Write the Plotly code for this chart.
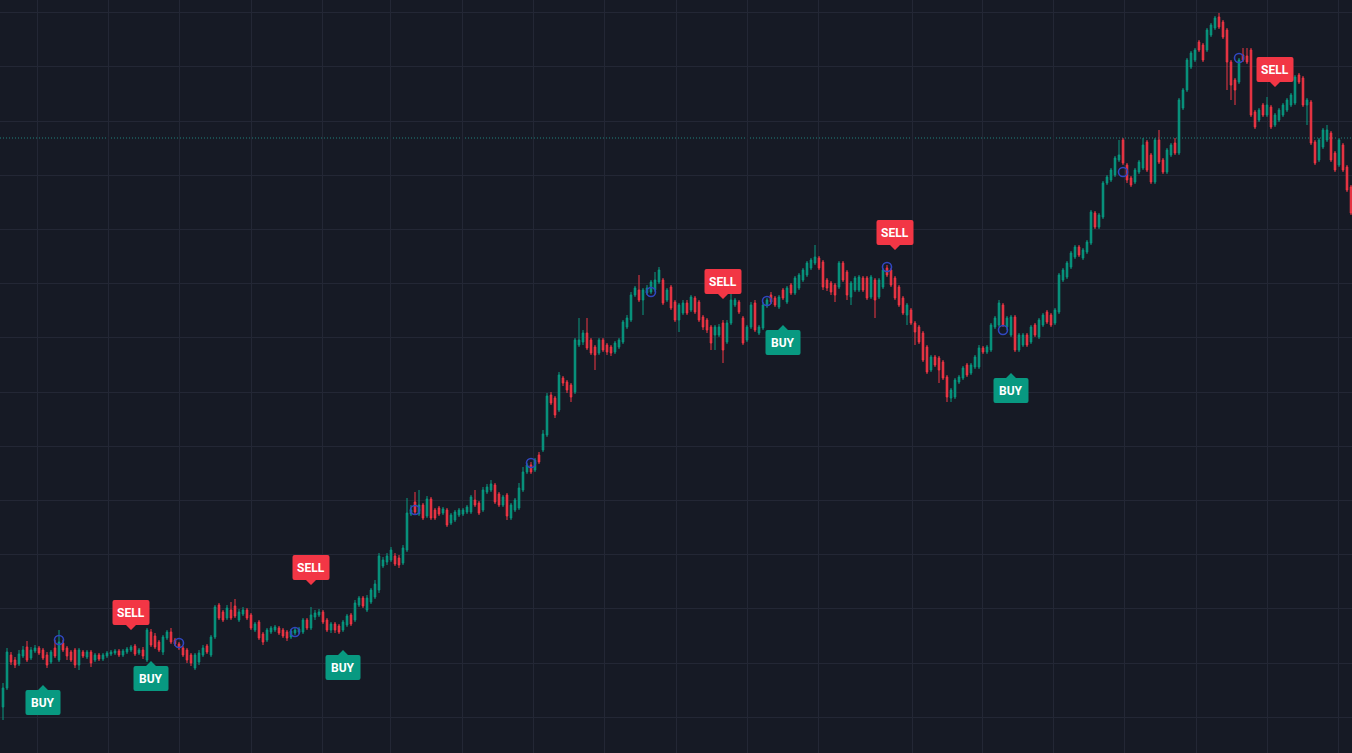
import plotly.graph_objects as go

opens = [93,112,145,140,136,144,153,142,149,152,
150,145,138,152,140,157,152,148,150,135,
148,143,148,140,145,141,144,146,147,149,
145,148,150,154,147,150,140,168,164,158,
148,162,168,160,156,152,150,145,132,138,
145,154,145,163,195,188,182,190,194,180,
186,190,185,170,178,166,160,168,170,172,
170,168,163,167,168,168,180,172,183,185,
188,180,170,176,174,170,175,185,180,195,
202,190,198,203,210,234,238,240,244,242,
237,250,286,298,286,295,284,301,290,292,
287,290,277,280,285,286,288,288,300,297,
290,308,310,315,306,295,305,282,290,292,
310,328,335,330,345,350,365,405,402,390,
422,418,415,408,455,458,467,460,453,447,
460,455,453,448,453,458,473,480,505,510,
500,507,508,510,518,520,500,513,498,480,
487,497,490,502,498,483,480,473,465,465,
477,458,477,495,498,482,460,473,497,467,
472,494,505,502,493,510,498,515,507,512,
520,525,532,537,542,538,520,517,515,513,
537,528,503,510,510,522,522,503,520,503,
513,532,530,522,513,502,485,490,477,473,
467,453,430,443,442,438,423,402,403,418,
422,435,427,433,433,452,448,450,473,475,
495,473,465,483,450,455,465,458,475,463,
475,488,485,477,488,520,523,533,543,553,
542,548,557,587,573,583,617,620,625,640,
660,635,622,618,628,632,658,645,618,660,
640,628,645,657,647,692,710,733,740,758,
755,750,765,772,783,778,770,738,720,718,
745,744,750,688,680,695,685,693,675,680,
685,690,695,697,725,722,695,698,658,640,
653,660,667,647,635,655,633,613]

closes = [112,148,138,135,146,150,140,150,152,147,
142,135,148,144,158,150,144,140,135,150,
144,148,137,145,141,145,147,148,149,145,
149,151,153,146,150,144,170,155,153,150,
163,168,158,156,152,145,140,137,145,147,
152,148,163,193,182,180,192,182,184,188,
190,182,172,176,162,158,170,172,173,167,
164,162,169,170,171,180,172,185,187,188,
178,170,176,170,168,178,184,176,197,202,
194,202,210,216,244,240,244,250,236,235,
252,287,290,288,295,282,301,282,282,286,
291,275,285,288,290,290,293,303,295,287,
310,313,316,298,295,303,284,295,300,312,
328,335,328,340,338,366,404,397,385,425,
417,410,403,460,460,467,452,447,445,460,
450,448,447,457,460,478,482,505,512,500,
510,512,518,520,530,497,510,492,480,495,
497,487,503,488,480,473,470,457,473,473,
450,477,500,500,488,457,473,495,470,473,
495,500,498,495,503,502,512,507,522,525,
530,537,540,543,532,513,512,508,505,537,
520,505,517,522,523,510,502,523,500,520,
530,525,515,502,495,487,495,477,468,458,
440,428,443,435,430,422,403,410,420,423,
432,425,435,443,452,448,453,475,482,497,
475,482,483,450,465,465,455,473,465,480,
485,478,475,490,525,530,537,547,553,545,
550,558,588,573,585,617,623,630,642,645,
637,620,615,630,638,655,630,618,660,638,
628,650,655,647,700,710,740,747,750,750,
740,770,775,782,773,763,738,715,710,740,
740,738,685,673,690,685,695,673,685,690,
695,700,705,723,718,695,700,657,637,660,
670,670,640,630,660,630,610,587]

highs = [117,152,148,143,150,154,159,153,155,154,
152,148,150,160,170,160,154,150,152,152,
150,150,150,147,147,147,149,150,151,151,
151,153,155,156,152,153,172,171,167,160,
165,170,172,162,158,154,152,147,147,150,
155,156,165,195,197,190,195,198,201,191,
193,192,187,178,180,168,172,174,175,174,
172,170,171,172,173,182,182,193,190,191,
190,182,178,178,176,180,186,187,200,204,
204,205,212,220,247,243,247,253,247,245,
255,302,295,308,310,297,304,303,292,294,
293,292,287,290,292,292,295,305,310,299,
313,316,320,317,308,305,307,297,302,317,
333,337,338,342,348,370,407,408,404,428,
424,420,417,462,482,470,482,462,455,462,
462,457,455,459,462,480,485,508,514,525,
512,515,520,528,533,522,512,515,500,497,
500,500,505,504,500,485,482,475,475,476,
480,480,508,502,500,484,475,498,500,475,
498,502,508,504,505,512,514,517,524,527,
532,539,542,555,544,540,522,519,517,539,
539,530,519,524,525,524,524,525,522,522,
532,535,532,524,515,504,497,492,479,475,
469,455,445,445,444,440,425,412,422,425,
434,437,437,445,455,454,455,477,484,500,
497,484,485,485,467,467,467,475,477,482,
487,490,487,492,527,532,539,549,555,555,
552,560,590,589,587,619,625,632,644,660,
662,637,624,632,640,662,660,647,662,670,
642,652,657,662,702,712,742,749,752,760,
757,772,777,784,787,780,772,740,722,742,
752,752,752,690,692,697,703,695,687,692,
697,702,707,725,727,724,702,700,660,662,
672,675,669,649,662,657,635,615]

lows = [80,110,135,132,134,142,138,140,147,145,
140,132,136,142,138,148,140,138,132,130,
142,141,133,138,139,139,142,144,145,143,
143,146,148,144,145,141,138,153,151,148,
145,160,156,154,150,143,137,134,130,135,
143,146,143,161,180,178,180,180,182,178,
184,180,170,168,160,155,158,166,168,165,
162,159,161,165,166,166,170,170,180,183,
176,168,167,167,166,168,173,174,178,193,
192,188,196,201,207,232,235,238,234,232,
235,248,284,286,284,280,282,280,280,284,
285,273,275,278,283,284,286,286,293,285,
288,306,308,296,293,293,280,280,288,290,
308,326,326,328,336,348,363,395,382,388,
414,407,398,406,453,455,450,445,430,445,
448,445,444,446,451,456,471,478,503,498,
485,505,506,508,516,495,498,490,478,468,
485,485,488,486,478,470,467,450,450,463,
437,456,475,493,486,455,458,471,468,465,
470,492,496,493,491,500,496,505,505,510,
518,523,530,535,530,510,509,505,498,511,
518,500,495,508,508,508,500,501,482,501,
511,523,513,500,493,485,475,475,455,456,
438,426,428,433,417,420,398,398,401,416,
420,423,425,431,431,446,446,448,471,473,
473,470,463,448,448,453,453,456,463,461,
473,476,473,475,486,518,521,531,541,543,
540,546,555,571,571,581,615,618,623,638,
635,617,613,616,626,630,628,616,616,636,
626,626,643,645,645,690,708,731,738,748,
738,748,763,770,771,761,710,700,695,716,
738,736,683,671,678,683,683,671,673,678,
683,688,693,695,716,693,675,655,635,638,
651,658,638,628,633,628,608,585]

n = min(len(opens), len(closes), len(highs), len(lows))
bars = list(range(n))

# signals: candle index and the price the label points at
buy_idx = [10, 37, 85, 195, 252]
buy_price = [115, 139, 150, 475, 427]
sell_idx = [32, 77, 180, 223, 318]
sell_price = [170, 215, 501, 550, 713]

# pivot circles
circ_idx = [14, 44, 73, 103, 132, 162, 191, 221, 250, 280, 309]
circ_price = [160, 157, 168, 290, 337, 508, 499, 533, 470, 628, 742]

level_price = 662

UP = "#089981"
DOWN = "#f23645"
BG = "#161a25"
GRID = "#232735"

fig = go.Figure()
fig.add_trace(go.Candlestick(
    x=bars, open=opens[:n], high=highs[:n], low=lows[:n], close=closes[:n],
    increasing=dict(line=dict(color=UP, width=1), fillcolor=UP),
    decreasing=dict(line=dict(color=DOWN, width=1), fillcolor=DOWN),
    whiskerwidth=0, hoverinfo="skip", showlegend=False,
))
fig.add_trace(go.Scatter(
    x=circ_idx, y=circ_price, mode="markers",
    marker=dict(symbol="circle-open", size=9, color="#3047c0", line=dict(width=1.6)),
    hoverinfo="skip", showlegend=False,
))

shapes = []
shapes.append(dict(type="line", xref="paper", x0=0, x1=1, yref="y", y0=level_price, y1=level_price,
                   line=dict(color="rgba(38,166,154,0.75)", width=1, dash="1px,2px"), layer="below"))


def callout(half_w, sign):
    # sign=+1 -> box below tip (BUY), -1 -> box above tip (SELL); y positive = up
    s = -sign
    p = 5
    h = 25
    r = 2
    y1 = s * p
    y2 = s * (p + h)
    pts = (f"M0,0 L5,{y1} L{half_w - r},{y1} Q{half_w},{y1} {half_w},{y1 + s * r} "
           f"L{half_w},{y2 - s * r} Q{half_w},{y2} {half_w - r},{y2} "
           f"L{-half_w + r},{y2} Q{-half_w},{y2} {-half_w},{y2 - s * r} "
           f"L{-half_w},{y1 + s * r} Q{-half_w},{y1} {-half_w + r},{y1} L-5,{y1} Z")
    return pts


annotations = []
for i, pr in zip(buy_idx, buy_price):
    shapes.append(dict(type="path", xref="x", yref="y", xsizemode="pixel", ysizemode="pixel",
                       xanchor=i, yanchor=pr, path=callout(17.5, 1),
                       fillcolor=UP, line=dict(width=0), layer="above"))
    annotations.append(dict(x=i, y=pr, xref="x", yref="y", text="<b>BUY</b>", showarrow=False,
                            yshift=-17.5, xanchor="center", yanchor="middle",
                            font=dict(family="Roboto", size=12, color="#ffffff")))
for i, pr in zip(sell_idx, sell_price):
    shapes.append(dict(type="path", xref="x", yref="y", xsizemode="pixel", ysizemode="pixel",
                       xanchor=i, yanchor=pr, path=callout(18.5, -1),
                       fillcolor=DOWN, line=dict(width=0), layer="above"))
    annotations.append(dict(x=i, y=pr, xref="x", yref="y", text="<b>SELL</b>", showarrow=False,
                            yshift=17.5, xanchor="center", yanchor="middle",
                            font=dict(family="Roboto", size=12, color="#ffffff")))

xgrid = [8.5, 26.25, 44, 62, 79.75, 96.75, 114.75, 132.5, 150.25, 168.25, 186, 203.75,
         227.25, 244.75, 262.5, 280.25, 298.25, 316, 333.75]

fig.update_layout(
    width=1352, height=753, margin=dict(l=0, r=0, t=0, b=0),
    paper_bgcolor=BG, plot_bgcolor=BG, boxgap=0.45,
    shapes=shapes, annotations=annotations,
    xaxis=dict(range=[-0.75, 337.25], rangeslider=dict(visible=False), tickvals=xgrid,
               showticklabels=False, showgrid=True, gridcolor=GRID, gridwidth=1,
               zeroline=False, showline=False, ticks=""),
    yaxis=dict(range=[47, 800], tick0=82.8, dtick=54.2, showticklabels=False, showgrid=True,
               gridcolor=GRID, gridwidth=1, zeroline=False, showline=False, ticks=""),
    hovermode=False,
)

fig.write_html("out.html", config={"displayModeBar": False},
               post_script="document.body.style.margin='0';document.body.style.background='#161a25';")
